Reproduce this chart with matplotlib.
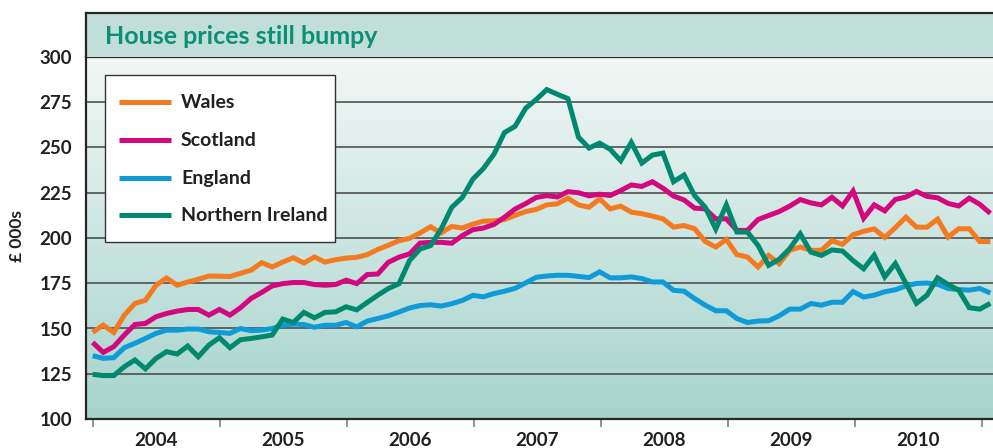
import numpy as np
import matplotlib
matplotlib.use("Agg")
import matplotlib.pyplot as plt
from matplotlib.lines import Line2D
from matplotlib.patches import Rectangle

plt.rcParams['font.family'] = ['Lato', 'DejaVu Sans']

# ---- data (£000s), one value per period, Jan 2004 onwards ----
years = ['2004', '2005', '2006', '2007', '2008', '2009', '2010']
y_ticks = [100, 125, 150, 175, 200, 225, 250, 275, 300]

wales = [147.8, 151.9, 147.8, 157.4, 163.8, 165.6, 173.9, 177.9, 173.9, 175.7,
         177.2, 179.0, 178.9, 178.7, 180.5, 182.2, 186.4, 184.0, 186.7, 189.1,
         186.2, 189.5, 186.7, 188.0, 188.9, 189.3, 190.8, 193.7, 196.0, 198.5,
         199.8, 202.8, 206.2, 202.8, 206.4, 205.5, 207.7, 209.3, 209.5, 210.2,
         212.5, 214.6, 215.8, 218.3, 218.9, 222.0, 218.3, 217.0, 221.6, 216.1,
         217.6, 214.3, 213.4, 212.1, 210.6, 206.0, 206.9, 205.1, 198.1, 195.0,
         199.2, 190.8, 189.5, 184.0, 190.4, 185.8, 193.2, 195.0, 193.2, 193.2,
         198.5, 196.5, 201.8, 203.7, 205.0, 200.3, 205.7, 211.5, 206.0, 206.0,
         210.4, 200.5, 205.1, 205.1, 198.0, 198.0]

scotland = [142.3, 136.8, 140.0, 146.4, 152.2, 152.8, 156.5, 158.3, 159.6, 160.5,
            160.5, 157.4, 160.5, 157.4, 161.5, 166.6, 169.9, 173.5, 174.8, 175.4,
            175.4, 174.3, 173.9, 174.3, 176.7, 174.8, 179.8, 180.1, 186.6, 189.4,
            191.2, 197.2, 197.6, 197.6, 197.1, 201.3, 204.6, 205.5, 207.5, 211.5,
            216.0, 219.0, 222.4, 223.4, 222.7, 225.6, 225.0, 223.3, 224.2, 223.5,
            226.2, 229.3, 228.5, 231.1, 227.5, 223.2, 221.0, 216.5, 216.1, 210.6,
            210.6, 204.2, 204.2, 210.2, 212.4, 214.6, 217.6, 221.2, 219.4, 218.3,
            222.5, 217.7, 225.9, 210.9, 218.3, 215.0, 221.3, 222.6, 225.7, 223.0,
            222.2, 219.1, 217.7, 222.0, 218.6, 213.6]

england = [135.0, 133.5, 133.9, 139.4, 141.8, 144.5, 147.3, 149.1, 149.1, 149.7,
           149.7, 148.2, 147.8, 147.3, 150.0, 148.8, 149.1, 150.0, 151.8, 152.4,
           152.2, 150.7, 151.8, 151.8, 153.3, 150.9, 154.1, 155.5, 157.0, 159.1,
           161.3, 162.7, 163.1, 162.4, 163.7, 165.5, 168.3, 167.5, 169.3, 170.6,
           172.2, 175.2, 178.3, 179.0, 179.4, 179.4, 178.8, 178.1, 181.3, 178.0,
           178.0, 178.5, 177.6, 175.7, 175.7, 171.1, 170.6, 166.5, 162.9, 159.8,
           159.8, 155.5, 153.3, 154.1, 154.3, 157.0, 160.7, 160.7, 163.8, 162.9,
           164.5, 164.5, 170.4, 167.4, 168.4, 170.3, 171.4, 173.5, 174.9, 175.1,
           174.4, 172.1, 171.5, 171.2, 172.1, 169.6]

n_ireland = [124.7, 124.0, 124.0, 128.9, 132.6, 127.7, 133.5, 137.2, 135.9, 140.3,
             134.4, 140.8, 144.9, 139.4, 143.8, 144.5, 145.4, 146.4, 155.2, 153.3,
             158.9, 155.9, 158.9, 159.2, 162.0, 160.3, 164.4, 168.4, 172.1, 174.7,
             187.5, 193.9, 195.8, 205.0, 216.9, 222.4, 232.5, 238.4, 246.3, 258.3,
             261.7, 271.7, 276.5, 282.0, 279.4, 277.0, 255.7, 249.7, 252.4, 249.0,
             242.7, 252.8, 241.4, 245.8, 246.9, 231.1, 234.8, 223.4, 217.0, 205.0,
             218.3, 203.3, 203.3, 195.9, 184.9, 188.2, 194.1, 202.3, 192.2, 190.4,
             193.4, 192.8, 187.5, 183.0, 190.5, 178.5, 185.9, 175.0, 163.9, 168.4,
             178.0, 174.3, 171.2, 161.5, 160.7, 163.9]

series = [
    ('England', england, '#0f9bd7'),
    ('Wales', wales, '#f47a20'),
    ('Scotland', scotland, '#d4087e'),
    ('Northern Ireland', n_ireland, '#00896e'),
]
legend_order = ['Wales', 'Scotland', 'England', 'Northern Ireland']

W, H = 993, 448
fig = plt.figure(figsize=(W / 100, H / 100), dpi=100)
fig.patch.set_facecolor('white')


def fx(x):
    return x / W


def fy(y):
    return 1 - y / H


L, R, T, B = 86, 993, 57, 419
ax = fig.add_axes([fx(L), fy(B), fx(R) - fx(L), fy(T) - fy(B)])

per_year = 12.03
x = np.arange(len(wales))
xmin, xmax = -0.63, 85.25
ax.set_xlim(xmin, xmax)
ax.set_ylim(100, 300)

# gradient background
top = np.array([0.95, 0.97, 0.965])
bot = np.array([0.65, 0.83, 0.80])
t = np.linspace(0, 1, 256)[:, None]
grad = (top * (1 - t) + bot * t)[:, None, :]
ax.imshow(grad, extent=[xmin, xmax, 100, 300], aspect='auto', zorder=0,
          interpolation='bilinear')

# gridlines
for v in y_ticks[1:-1]:
    ax.axhline(v, color='#444444', lw=1.1, zorder=1)

lines = {}
for name, vals, col in series:
    ax.plot(x, vals, color=col, lw=3.6, zorder=3, solid_joinstyle='miter',
            solid_capstyle='butt')
    lines[name] = col

# axes styling
ax.spines['right'].set_visible(False)
for s in ['left', 'bottom', 'top']:
    ax.spines[s].set_color('#262626')
    ax.spines[s].set_linewidth(1.6)
    ax.spines[s].set_zorder(5)

ax.set_yticks(y_ticks)
ax.set_yticklabels([str(v) for v in y_ticks])
ax.tick_params(axis='y', length=0, pad=10, labelsize=13.5, labelcolor='#231f20')
for lab in ax.get_yticklabels():
    lab.set_fontweight('bold')

major = [per_year * k for k in range(len(years) + 1)]
minor = [per_year * (k + 0.5) for k in range(len(years))]
ax.set_xticks(major)
ax.set_xticklabels([''] * len(major))
ax.set_xticks(minor, minor=True)
ax.set_xticklabels(years, minor=True)
ax.tick_params(axis='x', which='major', direction='out', length=6, width=1.3,
               color='#8a8a8a')
ax.tick_params(axis='x', which='minor', length=0, pad=9, labelsize=13.5,
               labelcolor='#231f20')
for lab in ax.get_xticklabels(minor=True):
    lab.set_fontweight('bold')

fig.text(fx(17), fy(236), '£ 000s', rotation=90, ha='center', va='center',
         fontsize=12.5, fontweight='bold', color='#231f20')

# title band
fig.patches.append(Rectangle((fx(L), fy(T)), fx(R) - fx(L), fy(13) - fy(T),
                             transform=fig.transFigure, facecolor='#c1dfd8',
                             edgecolor='none', zorder=0))
fig.lines.append(Line2D([fx(L), fx(R)], [fy(13), fy(13)], transform=fig.transFigure,
                        color='#262626', lw=1.6))
fig.lines.append(Line2D([fx(L), fx(L)], [fy(13), fy(T)], transform=fig.transFigure,
                        color='#262626', lw=1.6))
fig.text(fx(105), fy(36), 'House prices still bumpy', ha='left', va='center',
         fontsize=18, fontweight='bold', color='#0b9077')

# legend box
lx0, ly0, lx1, ly1 = 105, 75, 335, 242
fig.patches.append(Rectangle((fx(lx0), fy(ly1)), fx(lx1) - fx(lx0), fy(ly0) - fy(ly1),
                             transform=fig.transFigure, facecolor='white',
                             edgecolor='#333333', lw=1.0, zorder=6))
rows = [102, 140, 178, 215]
for name, yy in zip(legend_order, rows):
    fig.lines.append(Line2D([fx(119), fx(171)], [fy(yy), fy(yy)],
                            transform=fig.transFigure, color=lines[name], lw=3.6,
                            solid_capstyle='butt', zorder=7))
    fig.text(fx(181), fy(yy), name, ha='left', va='center', fontsize=14,
             fontweight='bold', color='#231f20', zorder=8)

fig.savefig('out.png', dpi=100, facecolor='white')
